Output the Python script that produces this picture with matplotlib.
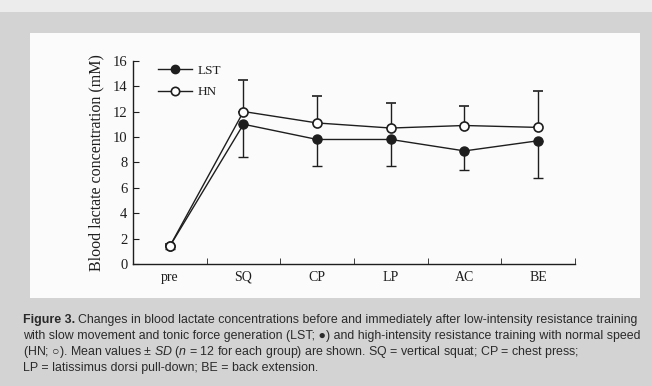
import numpy as np
import matplotlib
matplotlib.use('Agg')
import matplotlib.pyplot as plt
from matplotlib.patches import Rectangle
from matplotlib.lines import Line2D

# data
stages = ['pre', 'SQ', 'CP', 'LP', 'AC', 'BE']
lst_mean = [1.4, 11.0, 9.8, 9.8, 8.9, 9.7]
lst_sd = [0.2, 2.55, 2.1, 2.1, 1.5, 2.95]
hn_mean = [1.4, 12.0, 11.1, 10.7, 10.9, 10.75]
hn_sd = [0.2, 2.5, 2.1, 2.0, 1.5, 2.85]
yticks = [0, 2, 4, 6, 8, 10, 12, 14, 16]

caption = [
  "Changes in blood lactate concentrations before and immediately after low-intensity resistance training",
  "with slow movement and tonic force generation (LST; \u25cf) and high-intensity resistance training with normal speed",
  "(HN; \u25cb). Mean values \u00b1 $SD$ ($n$ = 12 for each group) are shown. SQ = vertical squat; CP = chest press;",
  "LP = latissimus dorsi pull-down; BE = back extension.",
]

plt.rcParams['mathtext.fontset'] = 'custom'
plt.rcParams['mathtext.rm'] = 'Liberation Sans'
plt.rcParams['mathtext.it'] = 'Liberation Sans:italic'

ink = '#1e1e1e'
serif = 'Liberation Serif'
capfont = 8.9

fig = plt.figure(figsize=(6.52, 3.86), dpi=100)
fig.patch.set_facecolor('#d3d3d3')
# light strip at the very top of the scan
fig.add_artist(Rectangle((0, 1 - 12/386), 1, 12/386, transform=fig.transFigure,
                         facecolor='#ececec', edgecolor='none', zorder=0))
# white panel behind the chart
fig.add_artist(Rectangle((30/652, 88/386), 610/652, 265/386, transform=fig.transFigure,
                         facecolor='#fbfbfb', edgecolor='none', zorder=0))

ax = fig.add_axes([133/652, 122/386, 442/652, 203.3/386])
ax.set_facecolor('none')
x = np.arange(len(stages))
zero = np.zeros(len(stages))

ax.errorbar(x, lst_mean, yerr=[lst_sd, zero], color=ink, lw=1.0, elinewidth=1.0,
            capsize=3.5, capthick=1.0, marker='o', ms=6.5, mfc=ink, mec=ink, zorder=3)
ax.errorbar(x, hn_mean, yerr=[zero, hn_sd], color=ink, lw=1.0, elinewidth=1.0,
            capsize=3.5, capthick=1.0, marker='o', ms=6.5, mfc='white', mec=ink,
            mew=1.2, zorder=4)

ax.set_xlim(-0.5, 5.5)
ax.set_ylim(0, 16)
ax.spines['top'].set_visible(False)
ax.spines['right'].set_visible(False)
for s in ['left', 'bottom']:
  ax.spines[s].set_color(ink)
  ax.spines[s].set_linewidth(1.0)

ax.set_yticks(yticks)
ax.set_yticklabels([str(v) for v in yticks], family=serif, fontsize=10.5, color=ink)
ax.set_xticks(x)
ax.set_xticklabels(stages, family=serif, fontsize=10, color=ink)
ax.tick_params(axis='x', which='major', length=0, pad=5)
ax.set_xticks(np.arange(0.5, 5.6, 1.0), minor=True)
ax.tick_params(axis='x', which='minor', direction='in', length=4, color=ink)
ax.tick_params(axis='y', direction='in', length=4, color=ink, pad=4)

ax.set_ylabel('Blood lactate concentration (mM)', family=serif, fontsize=11.5,
              color=ink, labelpad=6)

handles = [
  Line2D([], [], color=ink, lw=1.0, marker='o', ms=6, mfc=ink, mec=ink),
  Line2D([], [], color=ink, lw=1.0, marker='o', ms=6, mfc='white', mec=ink, mew=1.2),
]
leg = ax.legend(handles, ['LST', 'HN'], loc='upper left', bbox_to_anchor=(0.03, 1.04),
                frameon=False, handlelength=2.6, handletextpad=0.4, labelspacing=0.7,
                prop={'family': serif, 'size': 9.5})
for t in leg.get_texts():
  t.set_color(ink)

# caption
head = fig.text(23/652, 1 - 320/386, 'Figure 3.', fontsize=capfont, fontweight='bold',
                family='Liberation Sans', color='#2a2a2a', va='center')
fig.canvas.draw()
bb = head.get_window_extent()
fig.text((bb.x1 + 3)/652, 1 - 320/386, caption[0], fontsize=capfont,
         family=['Liberation Sans', 'DejaVu Sans'], color='#2a2a2a', va='center')
for i, line in enumerate(caption[1:]):
  fig.text(23/652, 1 - (336 + 16*i)/386, line, fontsize=capfont,
           family=['Liberation Sans', 'DejaVu Sans'], color='#2a2a2a', va='center')

fig.savefig('out.png', dpi=100, facecolor=fig.get_facecolor())
